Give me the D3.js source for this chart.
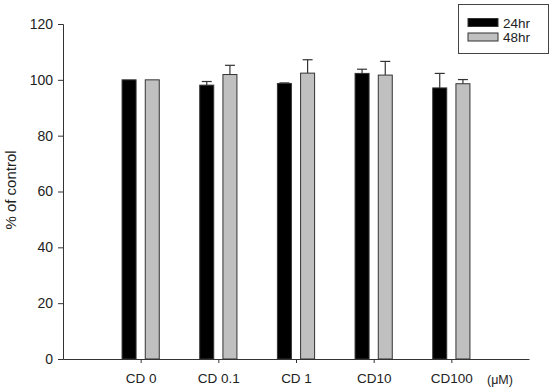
<!DOCTYPE html>
<html>
<head>
<meta charset="utf-8">
<title>% of control</title>
<script type="text/javascript" src="https://cdn.jsdelivr.net/npm/d3@7/dist/d3.min.js"></script>
<style>
body { margin:0; background:#fff; }
text { font-family: Arial, "Liberation Sans", sans-serif; fill:#222; }
</style>
</head>
<body>
<div id="chart"></div>
<script>
// data
var doses = ["CD 0", "CD 0.1", "CD 1", "CD10", "CD100"];
var series = ["24hr", "48hr"];
var colors = ["#000000", "#c0c0c0"];
var mean24 = [100, 98.1, 98.7, 102.3, 97.1];
var err24 = [0, 1.3, 0.2, 1.5, 5.2];
var mean48 = [100, 101.9, 102.4, 101.7, 98.6];
var err48 = [0, 3.3, 4.8, 4.9, 1.5];
var yTicks = [0, 20, 40, 60, 80, 100, 120];

var W = 550, H = 391;
var svg = d3.select("#chart").append("svg").attr("width", W).attr("height", H);

var x = d3.scaleLinear().domain([0, doses.length + 1]).range([63, 529]);
var y = d3.scaleLinear().domain([0, 120]).range([359, 24]);

var bw = 14, off = 11.6;
var rows = [];
doses.forEach(function(d, i){
	rows.push({i:i, s:0, v:mean24[i], e:err24[i]});
	rows.push({i:i, s:1, v:mean48[i], e:err48[i]});
});

var g = svg.append("g");

// error bars first, bars on top
var withErr = rows.filter(function(r){ return r.e > 0; });
g.selectAll("line.err").data(withErr).enter()
	.append("line").attr("class","err")
	.attr("x1", function(r){ return x(r.i+1) + (r.s ? off : -off); })
	.attr("x2", function(r){ return x(r.i+1) + (r.s ? off : -off); })
	.attr("y1", function(r){ return y(r.v); })
	.attr("y2", function(r){ return y(r.v + r.e); })
	.attr("stroke","#333").attr("stroke-width",1.2);
g.selectAll("line.cap").data(withErr).enter()
	.append("line").attr("class","cap")
	.attr("x1", function(r){ return x(r.i+1) + (r.s ? off : -off) - 5; })
	.attr("x2", function(r){ return x(r.i+1) + (r.s ? off : -off) + 5; })
	.attr("y1", function(r){ return y(r.v + r.e); })
	.attr("y2", function(r){ return y(r.v + r.e); })
	.attr("stroke","#333").attr("stroke-width",1.2);

g.selectAll("rect.bar").data(rows).enter()
	.append("rect").attr("class","bar")
	.attr("x", function(r){ return x(r.i+1) + (r.s ? off : -off) - bw/2; })
	.attr("y", function(r){ return y(r.v); })
	.attr("width", bw)
	.attr("height", function(r){ return y(0) - y(r.v); })
	.attr("fill", function(r){ return colors[r.s]; })
	.attr("stroke","#333").attr("stroke-width",1);

// axes
var yAxis = svg.append("g").attr("transform","translate(63,0)")
	.call(d3.axisLeft(y).tickValues(yTicks).tickSize(5).tickPadding(5));
yAxis.select(".domain").attr("stroke","#333");
yAxis.selectAll(".tick line").attr("stroke","#333");
yAxis.selectAll("text").style("font-size","14px").attr("fill","#222");

var xAxis = svg.append("g").attr("transform","translate(0,359)")
	.call(d3.axisBottom(x).tickValues(d3.range(1, doses.length + 1))
		.tickFormat(function(d){ return doses[d-1]; }).tickSize(4).tickSizeOuter(0).tickPadding(10));
xAxis.select(".domain").attr("stroke","#333");
xAxis.selectAll(".tick line").attr("stroke","#333");
xAxis.selectAll("text").style("font-size","13.5px").attr("fill","#222");

svg.append("text").attr("x", 487).attr("y", 384).style("font-size","12.5px").text("(\u03bcM)");

svg.append("text").attr("transform","translate(16,190) rotate(-90)")
	.attr("text-anchor","middle").style("font-size","15px").text("% of control");

// legend
var lg = svg.append("g");
lg.append("rect").attr("x",458.5).attr("y",4.5).attr("width",90).attr("height",49)
	.attr("fill","#fff").attr("stroke","#444");
series.forEach(function(s, i){
	lg.append("rect").attr("x",468).attr("y",18.5 + i*14.5).attr("width",30).attr("height",8)
		.attr("fill",colors[i]).attr("stroke","#333");
	lg.append("text").attr("x",503).attr("y",27.5 + i*14.5).style("font-size","13.5px").text(s);
});
</script>
</body>
</html>
